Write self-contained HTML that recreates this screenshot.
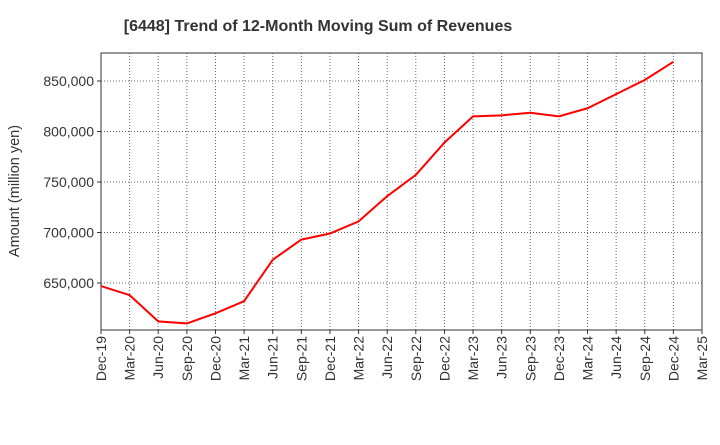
<!DOCTYPE html>
<html><head><meta charset="utf-8"><style>
body{margin:0;background:#fff;font-family:"Liberation Sans",sans-serif;}
svg text{font-family:"Liberation Sans",sans-serif;}
</style></head><body>
<svg id="chart" width="720" height="440">
<text x="318" y="31" font-size="16" font-weight="bold" text-anchor="middle" fill="#333">[6448]  Trend of 12-Month Moving Sum of Revenues</text>
<text transform="translate(19,191) rotate(-90)" font-size="14.5" text-anchor="middle" fill="#333">Amount (million yen)</text>
<g id="grid"></g><g id="axes"></g><g id="series"></g>
</svg>
<script>
const categories=["Dec-19","Mar-20","Jun-20","Sep-20","Dec-20","Mar-21","Jun-21","Sep-21","Dec-21","Mar-22","Jun-22","Sep-22","Dec-22","Mar-23","Jun-23","Sep-23","Dec-23","Mar-24","Jun-24","Sep-24","Dec-24","Mar-25"];
const revenues=[647000,638000,612000,610000,620000,632000,673000,693000,699000,711000,736000,757000,789000,815000,816000,818500,815000,823000,837000,851000,869000];
const yTicks=[650000,700000,750000,800000,850000];
const yTickLabels=["650,000","700,000","750,000","800,000","850,000"];
const L=101,R=702,T=53,B=330,yMin=603500,yMax=877700;
const xs=i=>L+(R-L)*i/(categories.length-1);
const ys=v=>B-(v-yMin)/(yMax-yMin)*(B-T);
const NS="http://www.w3.org/2000/svg";
function mk(tag,parent,attrs){const e=document.createElementNS(NS,tag);for(const k in attrs)e.setAttribute(k,attrs[k]);document.getElementById(parent).appendChild(e);return e;}
categories.forEach((c,i)=>{
  const x=xs(i);
  if(i>0&&i<categories.length-1){const g=mk("line","grid",{x1:x,x2:x,y1:T,y2:B,stroke:"#666","stroke-dasharray":"1,2","stroke-width":1});
  
  }
  const t=mk("text","axes",{transform:`translate(${x+5},${B+6}) rotate(-90)`,"font-size":14,"text-anchor":"end",fill:"#333"});
  t.textContent=c;
  
  
  const tk=mk("line","axes",{x1:x,x2:x,y1:B,y2:B+4,stroke:"#333"});
  
  
});
yTicks.forEach((v,i)=>{
  const y=ys(v);
  const g=mk("line","grid",{x1:L,x2:R,y1:y,y2:y,stroke:"#666","stroke-dasharray":"1,2"});
  
  
  const t=mk("text","axes",{x:L-7,y:y+5,"font-size":14,"text-anchor":"end",fill:"#333"});
  t.textContent=yTickLabels[i];
  
  
  const tk=mk("line","axes",{x1:L-4,x2:L,y1:y,y2:y,stroke:"#333"});
  
  
});
const frame=mk("rect","axes",{x:L,y:T,width:R-L,height:B-T,fill:"none",stroke:"#333"});


const line=mk("polyline","series",{points:revenues.map((v,i)=>xs(i)+","+ys(v)).join(" "),fill:"none",stroke:"#ff0000","stroke-width":2});


</script>
</body></html>
